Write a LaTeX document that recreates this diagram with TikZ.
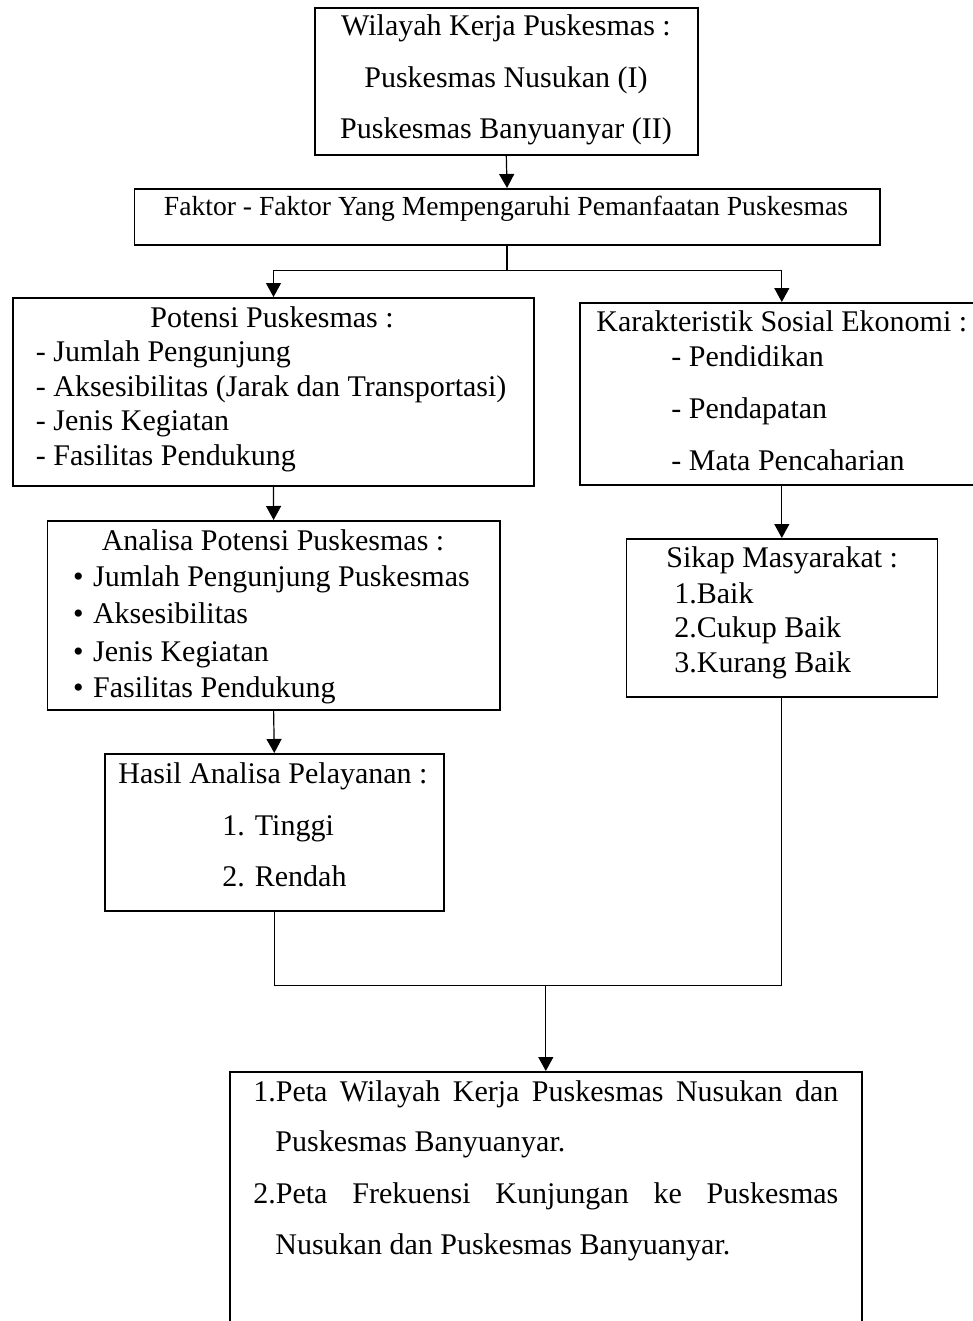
\documentclass[tikz,border=0pt]{standalone}
\usepackage{fontspec}
\setmainfont{Liberation Serif}
\usetikzlibrary{arrows.meta}

\begin{document}
\begin{tikzpicture}
  [x=0.5pt,y=-0.5pt,
   box/.style={draw,line width=0.8pt,inner sep=0pt,anchor=north west},
   txt/.style={inner sep=0pt,font=\fontsize{15}{18}\selectfont},
   arr/.style={-{Triangle[length=7pt,width=7.5pt]},line width=0.6pt}]
  \useasboundingbox (0,0) rectangle (973,1321);
  \clip (0,0) rectangle (973,1321);

  \node[box,minimum width=191.5pt,minimum height=73.5pt] (wilayah) at (314,7) {};
  \node[box,minimum width=372.75pt,minimum height=28pt] (faktor) at (133.5,188) {};
  \node[box,minimum width=260.3pt,minimum height=94pt] (potensi) at (12.4,297) {};
  \node[box,minimum width=202pt,minimum height=91pt] (karakter) at (579,302) {};
  \node[box,minimum width=226.2pt,minimum height=94.5pt] (analisa) at (46.6,520) {};
  \node[box,minimum width=155.5pt,minimum height=79pt] (sikap) at (625.5,538) {};
  \node[box,minimum width=169.5pt,minimum height=78.5pt] (hasil) at (104,753) {};
  \node[box,minimum width=316pt,minimum height=140pt] (peta) at (229,1071) {};

  \node[txt,anchor=base] (w1) at (506,36) {Wilayah Kerja Puskesmas :};
  \node[txt,anchor=base] (w2) at (506,88) {Puskesmas Nusukan (I)};
  \node[txt,anchor=base] (w3) at (506,139) {Puskesmas Banyuanyar (II)};

  \node[txt,anchor=base,font=\fontsize{13.8}{16}\selectfont] (f1) at (506,215) {Faktor - Faktor Yang Mempengaruhi Pemanfaatan Puskesmas};

  \node[txt,anchor=base] (pt) at (272,327) {Potensi Puskesmas :};
  \node[txt,anchor=base west] (p1) at (35.5,361) {- Jumlah Pengunjung};
  \node[txt,anchor=base west] (p2) at (35.5,396) {- Aksesibilitas (Jarak dan Transportasi)};
  \node[txt,anchor=base west] (p3) at (35.5,430) {- Jenis Kegiatan};
  \node[txt,anchor=base west] (p4) at (35.5,465) {- Fasilitas Pendukung};

  \node[txt,anchor=base west] (kt) at (596,331) {Karakteristik Sosial Ekonomi :};
  \node[txt,anchor=base west] (k1) at (671,366) {- Pendidikan};
  \node[txt,anchor=base west] (k2) at (671,418) {- Pendapatan};
  \node[txt,anchor=base west] (k3) at (671,470) {- Mata Pencaharian};

  \node[txt,anchor=base] (at) at (273,550) {Analisa Potensi Puskesmas :};
  \node[txt,anchor=base west] (a1) at (72.7,586) {\makebox[10pt][l]{\textbullet}Jumlah Pengunjung Puskesmas};
  \node[txt,anchor=base west] (a2) at (72.7,623) {\makebox[10pt][l]{\textbullet}Aksesibilitas};
  \node[txt,anchor=base west] (a3) at (72.7,661) {\makebox[10pt][l]{\textbullet}Jenis Kegiatan};
  \node[txt,anchor=base west] (a4) at (72.7,697) {\makebox[10pt][l]{\textbullet}Fasilitas Pendukung};

  \node[txt,anchor=base west] (st) at (666,567) {Sikap Masyarakat :};
  \node[txt,anchor=base west] (s1) at (674,603) {1.Baik};
  \node[txt,anchor=base west] (s2) at (674,637) {2.Cukup Baik};
  \node[txt,anchor=base west] (s3) at (674,672) {3.Kurang Baik};

  \node[txt,anchor=base] (ht) at (273,783) {Hasil Analisa Pelayanan :};
  \node[txt,anchor=base west] (h1) at (222,835) {1. Tinggi};
  \node[txt,anchor=base west] (h2) at (222,886) {2. Rendah};

  \node[txt,anchor=base west] (m1) at (253,1101) {\makebox[292.5pt][s]{1.Peta Wilayah Kerja Puskesmas Nusukan dan}};
  \node[txt,anchor=base west] (m2) at (275,1151) {Puskesmas Banyuanyar.};
  \node[txt,anchor=base west] (m3) at (253,1203) {\makebox[292.5pt][s]{2.Peta Frekuensi Kunjungan ke Puskesmas}};
  \node[txt,anchor=base west] (m4) at (275,1254) {Nusukan dan Puskesmas Banyuanyar.};

  \draw[arr] (wilayah.south) -- (faktor.north);
  \draw[line width=0.6pt] (faktor.south) -- ++(0,25) coordinate (split);
  \draw[arr] (split) -| (potensi.north);
  \draw[arr] (split) -| (karakter.north);
  \draw[arr] (potensi.south) -- (analisa.north);
  \draw[arr] (karakter.south) -- (sikap.north);
  \draw[arr] (analisa.south) -- (hasil.north);
  \draw[line width=0.6pt] (hasil.south) -- ++(0,74) coordinate (join) -| (sikap.south);
  \draw[arr] (join -| peta.north) -- (peta.north);

\end{tikzpicture}
\end{document}
